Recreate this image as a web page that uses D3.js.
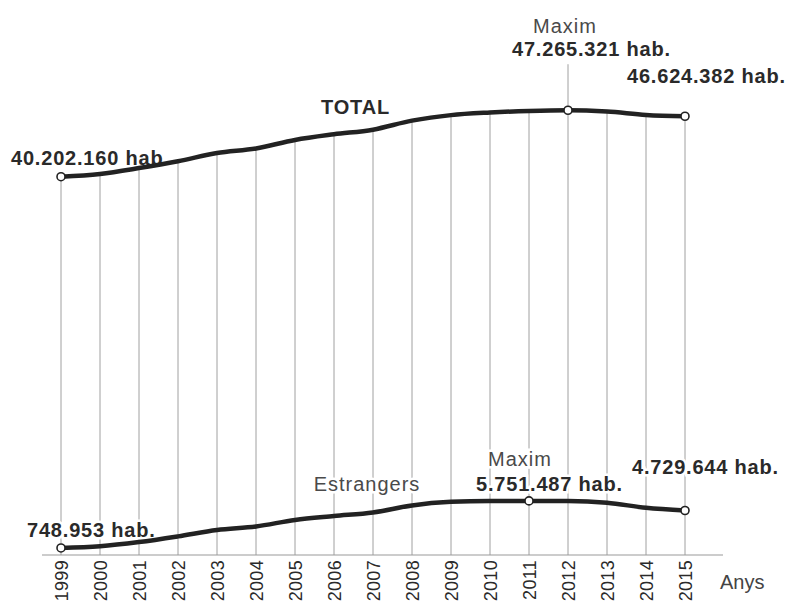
<!DOCTYPE html>
<html>
<head>
<meta charset="utf-8">
<script src="https://cdn.jsdelivr.net/npm/d3@7"></script>
<style>
  body { margin: 0; background: #fff; }
  svg { display: block; font-family: "Liberation Sans", Arial, sans-serif; }
</style>
</head>
<body>
<svg width="792" height="604"></svg>
<script>
// poblacio total i estrangers, 1999-2015
const years = [1999, 2000, 2001, 2002, 2003, 2004, 2005, 2006, 2007, 2008, 2009, 2010, 2011, 2012, 2013, 2014, 2015];
const total = [40202160, 40499791, 41116842, 41837894, 42717064, 43197684, 44108530, 44708964, 45200737,
  46157822, 46745807, 47021031, 47190493, 47265321, 47129783, 46771341, 46624382];
const estrangers = [748953, 923879, 1370657, 1977946, 2664168, 3034326, 3730610, 4144166, 4519554,
  5268762, 5648671, 5747734, 5751487, 5736258, 5546238, 5023487, 4729644];
const axisLabel = "Anys";

const svg = d3.select("svg");

const x = d3.scaleLinear().domain([1999, 2015]).range([61, 685]);
const y = d3.scaleLinear().domain([0, 50000000]).range([555, 84.5]);

// numbers with dots as thousands separator
const fmt = d3.formatLocale({ decimal: ",", thousands: ".", grouping: [3], currency: ["", ""] }).format(",d");
const hab = (v) => fmt(v) + " hab.";

const totalData = years.map((yr, i) => ({ year: yr, value: total[i] }));
const estrData = years.map((yr, i) => ({ year: yr, value: estrangers[i] }));

const iMaxT = d3.maxIndex(total);
const iMaxE = d3.maxIndex(estrangers);
const last = years.length - 1;

// vertical grid lines, from the total line down to the axis
svg.append("g")
  .selectAll("line")
  .data(totalData)
  .enter()
  .append("line")
  .attr("x1", (d) => x(d.year))
  .attr("x2", (d) => x(d.year))
  .attr("y1", (d, i) => (i === iMaxT ? y(d.value) - 46 : y(d.value)))
  .attr("y2", y(0))
  .attr("stroke", "#a0a0a0")
  .attr("stroke-width", 1);

// base line
svg.append("line")
  .attr("x1", 42).attr("x2", 723)
  .attr("y1", y(0)).attr("y2", y(0))
  .attr("stroke", "#999")
  .attr("stroke-width", 1.2);

// year ticks
const xAxis = d3.axisBottom(x)
  .tickValues(years)
  .tickFormat(d3.format("d"))
  .tickSize(0);
const axisG = svg.append("g")
  .attr("transform", `translate(0,${y(0)})`)
  .call(xAxis);
axisG.select(".domain").remove();
axisG.selectAll("text")
  .attr("transform", "rotate(-90)")
  .attr("text-anchor", "end")
  .attr("x", -5)
  .attr("y", 0)
  .attr("dy", "0.36em")
  .attr("fill", "#2a2a2a")
  .style("font-size", "18px")
  .style("letter-spacing", "0.3px")
  .style("font-family", "Liberation Sans, Arial, sans-serif");

svg.append("text")
  .attr("x", 720)
  .attr("y", 589)
  .attr("fill", "#444")
  .style("font-size", "20px")
  .text(axisLabel);

// labels
const labels = svg.append("g");
function label(txt, lx, ly, opts) {
  const o = opts || {};
  return labels.append("text")
    .attr("x", lx)
    .attr("y", ly)
    .attr("text-anchor", o.anchor || "start")
    .attr("fill", o.bold ? "#2a2a2a" : "#4a4a4a")
    .attr("font-weight", o.bold ? 700 : 400)
    .style("font-size", "20px")
    .style("letter-spacing", o.bold ? "0.8px" : "1px")
    .attr("stroke", o.halo ? "#fff" : "none")
    .attr("stroke-width", o.halo ? 5 : 0)
    .attr("paint-order", "stroke")
    .text(txt);
}

// total
label(hab(total[0]), x(years[0]) - 50, y(total[0]) - 12, { bold: true });
label("TOTAL", (x(2006) + x(2007)) / 2 + 2, y(total[7]) - 20, { bold: true, anchor: "middle" });
label("Maxim", x(years[iMaxT]) - 3, y(total[iMaxT]) - 77, { anchor: "middle" });
label(hab(total[iMaxT]), x(years[iMaxT]) - 56, y(total[iMaxT]) - 54, { bold: true });
label(hab(total[last]), x(years[last]) - 58, y(total[last]) - 33, { bold: true });

// estrangers
label(hab(estrangers[0]), x(years[0]) - 34, y(estrangers[0]) - 11, { bold: true, halo: true });
label("Estrangers", x(2007) - 6, y(estrangers[8]) - 21, { anchor: "middle", halo: true });
label("Maxim", x(years[iMaxE]) - 9, y(estrangers[iMaxE]) - 35, { anchor: "middle", halo: true });
label(hab(estrangers[iMaxE]), x(years[iMaxE]) - 53, y(estrangers[iMaxE]) - 10, { bold: true, halo: true });
label(hab(estrangers[last]), x(years[last]) - 53, y(estrangers[last]) - 36, { bold: true, halo: true });

// lines
const line = d3.line()
  .x((d) => x(d.year))
  .y((d) => y(d.value))
  .curve(d3.curveMonotoneX);

[totalData, estrData].forEach((data) => {
  svg.append("path")
    .datum(data)
    .attr("d", line)
    .attr("fill", "none")
    .attr("stroke", "#222")
    .attr("stroke-width", 4.5)
    .attr("stroke-linejoin", "round")
    .attr("stroke-linecap", "round");
});

// marked points
const marks = [
  totalData[0], totalData[iMaxT], totalData[last],
  estrData[0], estrData[iMaxE], estrData[last],
];
svg.append("g")
  .selectAll("circle")
  .data(marks)
  .enter()
  .append("circle")
  .attr("cx", (d) => x(d.year))
  .attr("cy", (d) => y(d.value))
  .attr("r", 4)
  .attr("fill", "#fff")
  .attr("stroke", "#222")
  .attr("stroke-width", 1.6);
</script>
</body>
</html>
